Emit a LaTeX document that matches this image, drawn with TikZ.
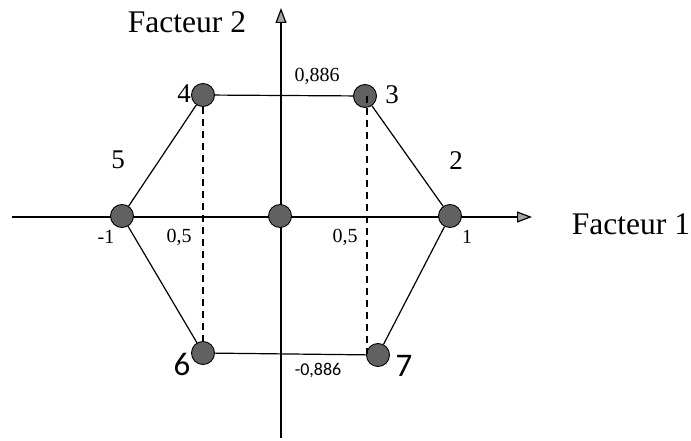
\documentclass[tikz,border=0pt]{standalone}
\usepackage{fontspec}
\setmainfont{Liberation Serif}
\newfontfamily\sansf{Carlito}
\usetikzlibrary{arrows.meta}
\tikzset{
  pt/.style={circle,draw=black,line width=0.9pt,fill=black!62,minimum size=23pt,inner sep=0pt},
  edge/.style={line width=1.2pt,black},
  axis/.style={line width=1.2pt,black,-{Triangle[length=15pt,width=11pt,fill=black!35]}},
  guide/.style={line width=1.3pt,dash pattern=on 7pt off 5pt},
  big/.style={font=\fontsize{27}{27}\selectfont,inner sep=0pt},
  title/.style={font=\fontsize{31.5}{31.5}\selectfont,inner sep=0pt},
  small/.style={font=\fontsize{20}{20}\selectfont,inner sep=0pt},
  sbig/.style={font=\sansf\fontsize{33}{33}\selectfont,inner sep=0pt},
  ssmall/.style={font=\sansf\fontsize{18}{18}\selectfont,inner sep=0pt}
}
\begin{document}
\begin{tikzpicture}[x=1pt,y=-1pt]
\fill[white] (0,0) rectangle (691,441);
\useasboundingbox (0,0) rectangle (691,441);
% axes
\coordinate (xl) at (12,217);
\coordinate (xr) at (532,217);
\coordinate (yb) at (281,438);
\coordinate (yt) at (281,8);
\draw[axis] (xl) -- (xr);
\draw[axis] (yb) -- (yt);
% points
\node[pt] (p1) at (450,216) {};
\node[pt] (pm1) at (122,216) {};
\node[pt] (p0) at (280,216) {};
\node[pt] (p4) at (203,95) {};
\node[pt] (p3) at (365,96) {};
\node[pt] (p6) at (203,353) {};
\node[pt] (p7) at (378,355) {};
% guides
\coordinate (g3) at (367,96);
\coordinate (g7) at (367,354);
\draw[guide] (p4.south) -- (p6.north);
\draw[guide] (g3) -- (g7);
% hexagon
\draw[edge] (pm1) -- (p4);
\draw[edge] (p4) -- (p3);
\draw[edge] (p3) -- (p1);
\draw[edge] (p1) -- (p7);
\draw[edge] (p7) -- (p6);
\draw[edge] (p6) -- (pm1);
% labels
\node[title] (f2) at (187,22) {Facteur 2};
\node[title] (f1) at (631,224) {Facteur 1};
\node[big] (l4) at (184,94) {4};
\node[big] (l3) at (392,95) {3};
\node[big] (l2) at (456,161) {2};
\node[big] (l5) at (118,160) {5};
\node[small] (l1) at (467,237) {1};
\node[small] (lm1) at (106,237) {-1};
\node[small] (h1) at (179,237) {0,5};
\node[small] (h2) at (345,237) {0,5};
\node[small] (v1) at (317,76) {0,886};
\node[ssmall] (v2) at (318,371) {-0,886};
\node[sbig] (l6) at (182,364) {6};
\node[sbig] (l7) at (404,366) {7};
\end{tikzpicture}
\end{document}
